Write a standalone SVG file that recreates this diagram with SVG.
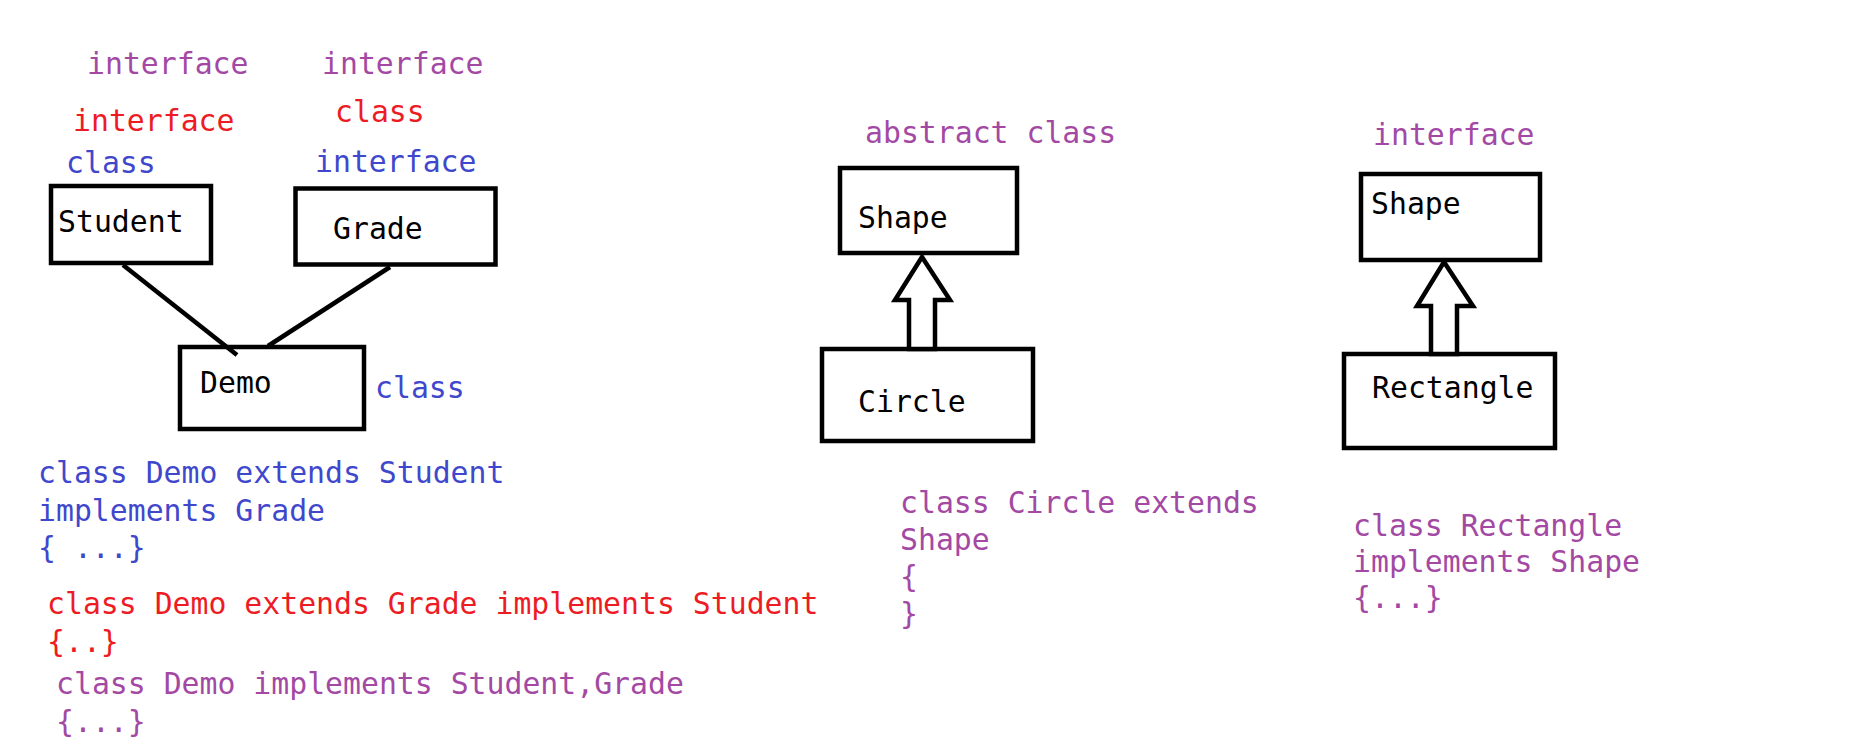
<svg xmlns="http://www.w3.org/2000/svg" width="1850" height="743" viewBox="0 0 1850 743">
<style>
text{font-family:"DejaVu Sans Mono","Liberation Mono",monospace;font-size:29.8px}
.p{fill:#A349A4}.r{fill:#ED1C24}.b{fill:#3F48CC}.k{fill:#000}
.box{fill:#fff;stroke:#000;stroke-width:4.5}
.ln{stroke:#000;stroke-width:4.5;fill:none}
.arr{fill:#fff;stroke:#000;stroke-width:4.5;stroke-linejoin:miter}
</style>
<rect width="1850" height="743" fill="#fff"/>
<g id="student">
<rect class="box" x="51" y="186" width="160" height="77"/>
<text class="k" x="58" y="232">Student</text>
<text class="b" x="66" y="173">class</text>
<text class="r" x="73" y="131">interface</text>
<text class="p" x="87" y="74">interface</text>
</g>
<g id="grade">
<rect class="box" x="295.5" y="188.5" width="200" height="76"/>
<text class="k" x="333" y="239">Grade</text>
<text class="b" x="315" y="172">interface</text>
<text class="r" x="335" y="122">class</text>
<text class="p" x="322" y="74">interface</text>
</g>
<g id="demo">
<rect class="box" x="180" y="347" width="184" height="82"/>
<text class="k" x="200" y="393">Demo</text>
<text class="b" x="375" y="398">class</text>
</g>
<g id="shape1">
<rect class="box" x="840" y="168" width="177" height="85"/>
<text class="k" x="858" y="228">Shape</text>
<text class="p" x="865" y="143">abstract class</text>
</g>
<g id="circle">
<rect class="box" x="822" y="349" width="211" height="92"/>
<text class="k" x="858" y="412">Circle</text>
</g>
<g id="shape2">
<rect class="box" x="1361" y="174" width="179" height="86"/>
<text class="k" x="1371" y="214">Shape</text>
<text class="p" x="1373" y="145">interface</text>
</g>
<g id="rectangle">
<rect class="box" x="1344" y="354" width="211" height="94"/>
<text class="k" x="1372" y="398">Rectangle</text>
</g>
<g id="connectors">
<line class="ln" x1="123" y1="265" x2="237" y2="355"/>
<line class="ln" x1="390" y1="267" x2="268" y2="346"/>
<path class="arr" d="M922 257 L895 300 L909 300 L909 349 L935 349 L935 300 L950 300 Z"/>
<path class="arr" d="M1444 262 L1417 306 L1431 306 L1431 354 L1457 354 L1457 306 L1473 306 Z"/>
</g>
<g id="code">
<text class="b" x="38" y="483">class Demo extends Student</text>
<text class="b" x="38" y="521">implements Grade</text>
<text class="b" x="38" y="558">{ ...}</text>
<text class="r" x="47" y="614">class Demo extends Grade implements Student</text>
<text class="r" x="47" y="652">{..}</text>
<text class="p" x="56" y="694">class Demo implements Student,Grade</text>
<text class="p" x="56" y="732">{...}</text>
<text class="p" x="900" y="513">class Circle extends</text>
<text class="p" x="900" y="550">Shape</text>
<text class="p" x="900" y="587">{</text>
<text class="p" x="900" y="624">}</text>
<text class="p" x="1353" y="536">class Rectangle</text>
<text class="p" x="1353" y="572">implements Shape</text>
<text class="p" x="1353" y="608">{...}</text>
</g>
</svg>
